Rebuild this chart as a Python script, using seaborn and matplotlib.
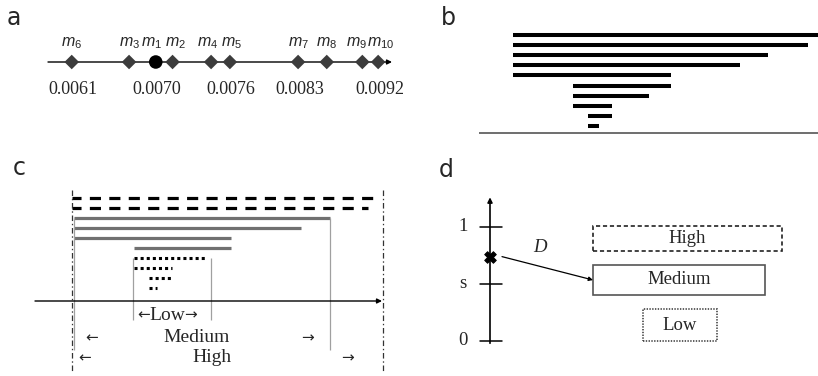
import numpy as np
import seaborn as sns
import matplotlib.pyplot as plt
from matplotlib.patches import Rectangle

# panel a: model scores placed on the schematic axis (units of 1e-4)
model_names = ['m_6', 'm_3', 'm_1', 'm_2', 'm_4', 'm_5', 'm_7', 'm_8', 'm_9', 'm_10']
model_scores = [61.0, 66.8, 69.5, 71.2, 75.1, 77.0, 83.9, 86.8, 90.4, 92.0]
labelled_models = ['m_6', 'm_1', 'm_5', 'm_7', 'm_10']
score_labels = ['0.0061', '0.0070', '0.0076', '0.0083', '0.0092']
best_model = 'm_1'

# panel b: nested intervals
b_starts = [0, 0, 0, 0, 0, 6.0, 6.0, 6.0, 7.5, 7.5]
b_ends = [30.5, 29.5, 25.5, 22.7, 15.8, 15.8, 13.6, 9.9, 9.9, 8.6]

# panel c: intervals grouped by level
high_starts = [0, 0]
high_ends = [30.8, 29.6]
medium_starts = [0.2, 0.2, 0.2, 6.2]
medium_ends = [25.8, 22.9, 15.9, 15.9]
low_starts = [6.2, 6.2, 7.7, 7.7]
low_ends = [13.5, 10.0, 10.0, 8.5]
high_bounds = [0, 31.1]
medium_bounds = [0.2, 25.8]
low_bounds = [6.1, 13.9]

# panel d: score axis and level boxes
d_ticks = [0, 0.5, 1]
d_tick_labels = ['0', 's', '1']
d_score = 0.74
level_names = ['High', 'Medium', 'Low']
level_x = [(1.03, 2.92), (1.03, 2.75), (1.53, 2.27)]
level_y = [(0.79, 1.01), (0.40, 0.67), (0.0, 0.28)]

sns.set_style('white')
plt.rcParams['lines.scale_dashes'] = False
plt.rcParams['mathtext.fontset'] = 'custom'
plt.rcParams['mathtext.it'] = 'Liberation Sans:italic'
plt.rcParams['mathtext.rm'] = 'Liberation Sans'
serif = ['Liberation Serif', 'DejaVu Serif']

W, H = 818, 376
fig = plt.figure(figsize=(W / 100, H / 100), dpi=100)


def add_panel(x0, y0, x1, y1):
    ax = fig.add_axes([x0 / W, 1 - y1 / H, (x1 - x0) / W, (y1 - y0) / H])
    ax.axis('off')
    return ax


for letter, (px, py) in zip('abcd', [(7, 25), (441, 25), (13, 175), (439, 177)]):
    fig.text(px / W, 1 - py / H, letter, fontsize=17, family='DejaVu Sans',
             va='baseline', ha='left')

# ---- a ----
ax = add_panel(48, 22, 392, 102)
ax.set_xlim(58.6, 93.4)
ax.set_ylim(-1, 1)
ax.annotate('', xy=(93.4, 0), xytext=(58.6, 0),
            arrowprops=dict(arrowstyle='-|>', lw=1, color='black', mutation_scale=7,
                            shrinkA=0, shrinkB=0))
diamonds = [s for n, s in zip(model_names, model_scores) if n != best_model]
sns.scatterplot(x=diamonds, y=[0] * len(diamonds), marker='D', s=55,
                color='#3c3c3c', edgecolor='none', ax=ax, zorder=3)
best = model_scores[model_names.index(best_model)]
sns.scatterplot(x=[best], y=[0], marker='o', s=95, color='black',
                edgecolor='none', ax=ax, zorder=3)
# small sideways nudges so the crowded labels do not collide
nudge = {'m_1': -3.2, 'm_2': 2.2, 'm_4': -2.2, 'm_5': 1.5, 'm_9': -4.0, 'm_10': 1.8}
for n, s in zip(model_names, model_scores):
    ax.annotate('$' + n.replace('_', '_{') + '}$', (s, 0),
                xytext=(nudge.get(n, 0), 13.5), textcoords='offset points',
                ha='center', va='center', fontsize=11.5)
for n, lab in zip(labelled_models, score_labels):
    s = model_scores[model_names.index(n)]
    ax.annotate(lab, (s, 0), xytext=(1, -20), textcoords='offset points',
                ha='center', va='center', fontsize=13, family=serif)

# ---- b ----
ax = add_panel(479, 20, 818, 140)
ax.set_xlim(-3.4, 30.5)
ax.set_ylim(10.4, -1.49)
rows = np.arange(len(b_starts))
ax.hlines(rows, b_starts, b_ends, color='black', lw=2.9)
ax.axhline(9.7, color='#555555', lw=1.2)

# ---- c ----
ax = add_panel(20, 180, 400, 376)
ax.set_xlim(-5.2, 32.8)
ax.set_ylim(17.8, -1.8)
ax.hlines([0, 1], high_starts, high_ends, color='black', lw=2.3,
          linestyles=[(1.5, (8, 6))])
ax.hlines([2, 3, 4, 5], medium_starts, medium_ends, color='#707070', lw=2.3)
ax.hlines([6, 7, 8, 9], low_starts, low_ends, color='black', lw=2.2,
          linestyles=[(0, (2.2, 2.2))])
ax.vlines(high_bounds, -0.8, 17.4, color='#333333', lw=0.9,
          linestyles=[(0, (4, 2, 1, 2))])
ax.vlines(medium_bounds, 2, 15.2, color='#a0a0a0', lw=0.9)
ax.vlines(low_bounds, 6, 12.2, color='#a0a0a0', lw=0.9)
ax.annotate('', xy=(31.0, 10.3), xytext=(-3.7, 10.3),
            arrowprops=dict(arrowstyle='-|>', lw=1, color='black', mutation_scale=7,
                            shrinkA=0, shrinkB=0))
txt = dict(ha='center', va='center', fontsize=14, family=serif)
arr = dict(va='center', fontsize=11, family='DejaVu Sans')
low_c = np.mean(low_bounds) - 0.5
ax.text(low_c, 11.7, 'Low', **txt)
ax.annotate('\u2190', (low_c, 11.7), xytext=(-12, 0), textcoords='offset points',
            ha='right', **arr)
ax.annotate('\u2192', (low_c, 11.7), xytext=(12, 0), textcoords='offset points',
            ha='left', **arr)
ax.text(12.5, 14.0, 'Medium', **txt)
ax.text(2.0, 14.0, '\u2190', ha='center', **arr)
ax.text(23.5, 14.0, '\u2192', ha='center', **arr)
ax.text(14.0, 16.0, 'High', **txt)
ax.text(1.3, 16.0, '\u2190', ha='center', **arr)
ax.text(27.5, 16.0, '\u2192', ha='center', **arr)

# ---- d ----
ax = add_panel(430, 180, 818, 376)
ax.set_xlim(-0.6, 3.28)
ax.set_ylim(-0.307, 1.412)
ax.annotate('', xy=(0, 1.26), xytext=(0, -0.02),
            arrowprops=dict(arrowstyle='-|>', lw=1.2, color='black', mutation_scale=7,
                            shrinkA=0, shrinkB=0))
for t, lab in zip(d_ticks, d_tick_labels):
    ax.plot([-0.1, 0.12], [t, t], color='black', lw=1.1)
    ax.text(-0.27, t, lab, ha='center', va='center', fontsize=13.5, family=serif)
sns.scatterplot(x=[0], y=[d_score], marker='X', s=70, color='black',
                edgecolor='black', ax=ax, zorder=3)
styles = [dict(ls=(0, (3, 2)), ec='#222222'), dict(ls='-', ec='#555555'),
          dict(ls=(0, (1, 1)), ec='#444444')]
for name, (x0, x1), (y0, y1), st in zip(level_names, level_x, level_y, styles):
    ax.add_patch(Rectangle((x0, y0), x1 - x0, y1 - y0, fill=False, lw=1.2,
                           linestyle=st['ls'], edgecolor=st['ec']))
    ax.text((x0 + x1) / 2, (y0 + y1) / 2, name, ha='center', va='center',
            fontsize=13.5, family=serif)
med = level_names.index('Medium')
ax.annotate('', xy=(level_x[med][0], 0.535), xytext=(0.12, d_score),
            arrowprops=dict(arrowstyle='-|>', lw=0.9, color='black', mutation_scale=6,
                            shrinkA=0, shrinkB=0))
ax.text(0.5, 0.82, 'D', ha='center', va='center', fontsize=13.5, style='italic',
        family=serif)

fig.savefig('out.png', dpi=100)
